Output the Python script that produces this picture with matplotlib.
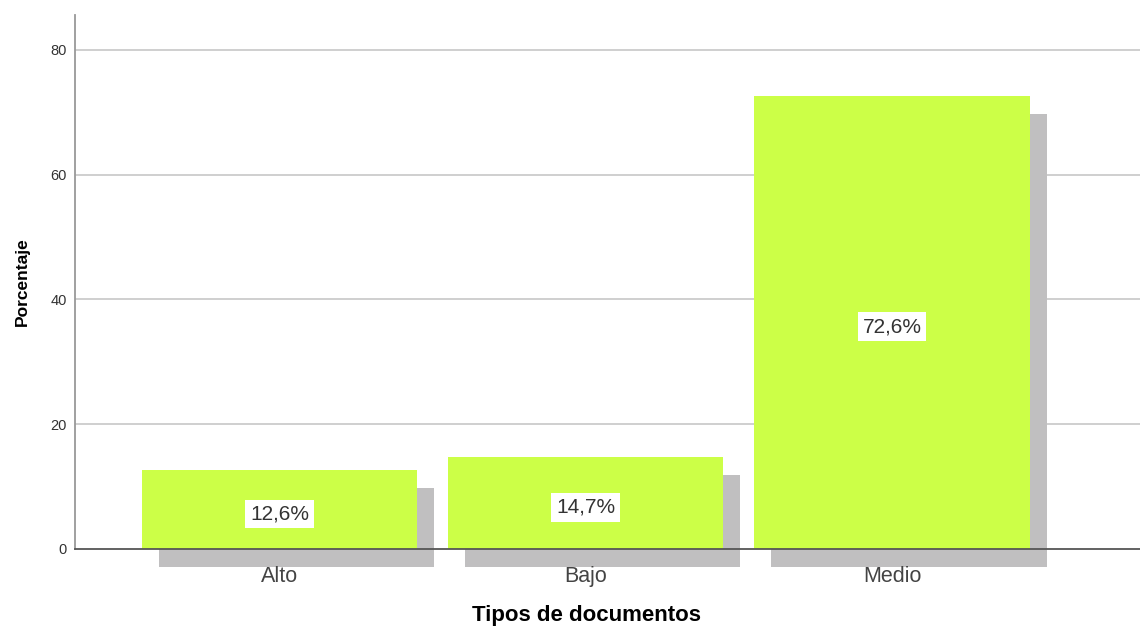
import matplotlib
matplotlib.use("Agg")
import matplotlib.pyplot as plt
from matplotlib.transforms import ScaledTranslation

# ----------------------
# Data
# ----------------------
categories = ["Alto", "Bajo", "Medio"]
percentages = [12.6, 14.7, 72.6]
value_labels = ["12,6%", "14,7%", "72,6%"]
y_ticks = [0, 20, 40, 60, 80]

BAR_COLOR = "#ccff47"
SHADOW_COLOR = "#c0bfc0"

plt.rcParams["font.family"] = ["Liberation Sans", "DejaVu Sans"]

fig = plt.figure(figsize=(11.4, 6.28), dpi=100)
ax = fig.add_axes([75 / 1140, 1 - 549 / 628, 1 - 75 / 1140, (549 - 15) / 628])

x = list(range(len(categories)))
width = 0.899

# gridlines drawn by hand so they sit under the bars but tick labels stay on top
for yt in y_ticks[1:]:
    ax.axhline(yt, color="#cccccc", linewidth=1.3, zorder=0.5)

# drop shadow: same bars shifted right/down by ~17 px
shadow_tr = ax.transData + ScaledTranslation(0.17, -0.18, fig.dpi_scale_trans)
ax.bar(x, percentages, width=width, color=SHADOW_COLOR, transform=shadow_tr,
       clip_on=False, zorder=1)
ax.bar(x, percentages, width=width, color=BAR_COLOR, zorder=3)

for xi, val, lab in zip(x, percentages, value_labels):
    ax.annotate(lab, (xi, val / 2), xytext=(0, -3), textcoords="offset points",
                ha="center", va="center", fontsize=15, color="#333333", zorder=5,
                bbox=dict(facecolor="white", edgecolor="none", pad=3.5))

ax.set_xlim(-0.668, 2.81)
ax.set_ylim(0, 85.6)
ax.set_yticks(y_ticks)
ax.set_xticks(x)
ax.set_xticklabels(categories, fontsize=15.5, color="#444444")
ax.tick_params(axis="x", length=0, pad=12)
ax.tick_params(axis="y", length=0, pad=6, labelsize=10.5, labelcolor="#333333")

for side in ["top", "right"]:
    ax.spines[side].set_visible(False)
ax.spines["left"].set_color("#999999")
ax.spines["left"].set_linewidth(1.3)
ax.spines["bottom"].set_color("#555555")
ax.spines["bottom"].set_linewidth(1.3)
ax.spines["bottom"].set_zorder(4)

ax.set_xlabel("Tipos de documentos", fontsize=16, fontweight="bold", labelpad=13.5)
ax.xaxis.label.set_x(0.48)
ax.set_ylabel("Porcentaje", fontsize=12.5, fontweight="bold", labelpad=15)

fig.savefig("out.png", dpi=100, facecolor="white")
